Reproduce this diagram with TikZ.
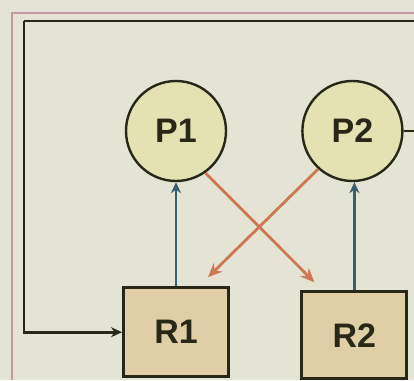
\documentclass[tikz,border=0pt]{standalone}
\usepackage{fontspec}
\setmainfont{Liberation Sans}
\usepackage{tikz}
\usetikzlibrary{positioning, arrows.meta, calc}
\definecolor{paper}{RGB}{228,228,212}
\definecolor{procfill}{RGB}{228,226,178}
\definecolor{resfill}{RGB}{224,207,166}
\definecolor{inkdark}{RGB}{40,40,25}
\definecolor{holdblue}{RGB}{55,95,115}
\definecolor{waitorange}{RGB}{208,118,82}
\definecolor{framepink}{RGB}{196,150,160}
\tikzset{
	>={Stealth[length=11pt, width=10pt]},
	every node/.style={font=\fontsize{34}{36}\selectfont\bfseries, text=inkdark},
	proc/.style={circle, draw=inkdark, line width=2.4pt, fill=procfill, minimum size=100pt, inner sep=0pt},
	res/.style={rectangle, draw=inkdark, line width=3pt, fill=resfill, minimum width=105pt, minimum height=89pt, inner sep=0pt},
	hold/.style={->, holdblue, line width=2.6pt},
	want/.style={->, waitorange, line width=2.8pt, >={Stealth[length=14pt, width=12pt]}},
	loop/.style={inkdark, line width=2.8pt},
}

\begin{document}
\begin{tikzpicture}[x=1pt, y=-1pt]
	\useasboundingbox (0,0) rectangle (414,380);
	\fill[paper] (0,0) rectangle (414,380);
	\draw[framepink, line width=2pt] (12,380) -- (12,13) -- (414,13);

	\node[proc] (P1) at (176,131) {P1};
	\node[proc, right=74pt of P1] (P2) {P2};
	\node[res, below=104pt of P1] (R1) {R1};
	\node[res, below=108pt of P2, xshift=2pt, minimum height=87pt] (R2) {R2};

	% held resources
	\draw[hold] (R1.north) -- (R1.north |- P1.south);
	\draw[hold] (R2.north) -- (R2.north |- P2.south);

	% requests
	\draw[want] (P1.-55) -- ($(R2.north west)+(14,-8)$);
	\draw[want] (P2.-132) -- ($(R1.north east)+(-22,-9)$);

	% outer loop
	\coordinate (loopin) at (414,21);
	\coordinate (loopcorner) at (24,21);
	\coordinate (p2out) at (414,133);
	\draw[loop] (loopin) -- (loopcorner);
	\draw[loop, ->] (loopcorner) |- (R1.west);
	\draw[loop] (P2.east) -- (p2out |- P2.east);
\end{tikzpicture}
\end{document}
